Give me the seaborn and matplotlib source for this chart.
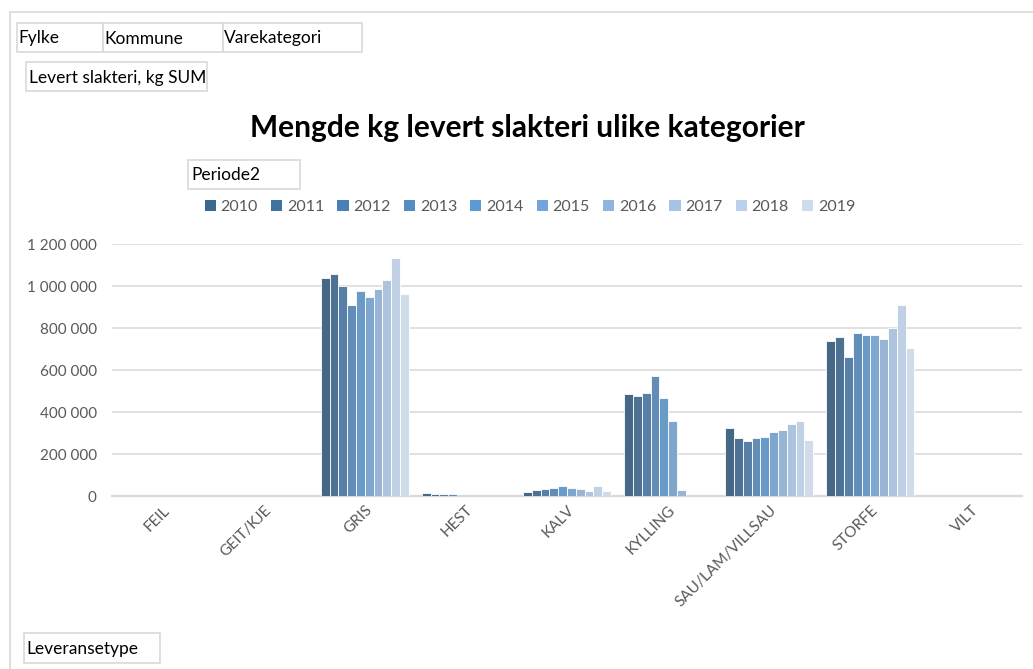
import numpy as np
import pandas as pd
import matplotlib
matplotlib.use("Agg")
import matplotlib.pyplot as plt
from matplotlib.patches import Rectangle
from matplotlib.lines import Line2D
import seaborn as sns

# Delivered slaughter weight (kg) per product category and year
categories = ["FEIL", "GEIT/KJE", "GRIS", "HEST", "KALV", "KYLLING",
              "SAU/LAM/VILLSAU", "STORFE", "VILT"]
years = ["2010", "2011", "2012", "2013", "2014", "2015", "2016", "2017", "2018", "2019"]

gris = [1037000, 1057000, 1002000, 908000, 978000, 948000, 986000, 1027000, 1132000, 962000]
hest = [12000, 11000, 11000, 11000]                       # 2010-2013
kalv = [17500, 28600, 31700, 36500, 46000, 38100, 31700, 22200, 47600, 23800]
kylling = [484000, 475000, 489000, 573000, 465000, 356000, 28600]   # 2010-2016
sau = [322000, 275000, 262000, 275000, 280000, 303000, 313000, 343000, 357000, 267000]
storfe = [738000, 756000, 660000, 776000, 767000, 765000, 746000, 801000, 909000, 703000]

series = {"GRIS": gris, "HEST": hest, "KALV": kalv, "KYLLING": kylling,
          "SAU/LAM/VILLSAU": sau, "STORFE": storfe}

yticks = [0, 200000, 400000, 600000, 800000, 1000000, 1200000]
ytick_labels = ["0", "200 000", "400 000", "600 000", "800 000", "1 000 000", "1 200 000"]

palette = ["#3b6791", "#41739f", "#4a80b5", "#538dc4", "#5b9bd5",
           "#72a6da", "#8eb4e0", "#a6c2e5", "#bbd0eb", "#cddbef"]

rows = []
for cat, vals in series.items():
    for yr, v in zip(years, vals):
        rows.append({"Varekategori": cat, "Periode2": yr, "kg": v})
df = pd.DataFrame(rows)

sns.set_theme(style="white")
plt.rcParams["font.family"] = ["Lato", "DejaVu Sans"]

W, H = 1033, 669
fig = plt.figure(figsize=(W / 100, H / 100), dpi=100)


def fx(px):
    return px / W


def fy(py):
    return 1 - py / H


ax = fig.add_axes([fx(112), fy(496), fx(1022) - fx(112), fy(244) - fy(496)])

sns.barplot(data=df, x="Varekategori", y="kg", hue="Periode2",
            order=categories, hue_order=years, palette=palette,
            width=0.87, edgecolor="white", linewidth=0.6,
            errorbar=None, ax=ax, legend=False, zorder=3)

grey_text = "#595959"
grid_col = "#d9d9d9"

ax.set_ylim(0, 1200000)
ax.set_xlim(-0.5, len(categories) - 0.5)
ax.set_yticks(yticks)
ax.set_yticklabels(ytick_labels, color=grey_text, fontsize=11)
ax.yaxis.grid(True, color=grid_col, linewidth=1.1, zorder=0)
ax.set_axisbelow(True)
ax.set_xlabel("")
ax.set_ylabel("")
for side in ["top", "right", "left"]:
    ax.spines[side].set_visible(False)
ax.spines["bottom"].set_color(grid_col)
ax.spines["bottom"].set_linewidth(1.6)
ax.tick_params(axis="y", length=0, pad=11)
ax.tick_params(axis="x", length=0, pad=5)
ax.set_xticks(range(len(categories)))
ax.set_xticklabels(categories, rotation=45, ha="right", rotation_mode="anchor",
                   color=grey_text, fontsize=11)

# Title
fig.text(fx(527), fy(128), "Mengde kg levert slakteri ulike kategorier",
         ha="center", va="center", fontsize=21.5, fontweight="bold", color="black")

# Legend
handles = [Rectangle((0, 0), 1, 1, facecolor=c, edgecolor="none") for c in palette]
fig.legend(handles, years, loc="center", bbox_to_anchor=(fx(530), fy(207)),
           ncol=10, frameon=False, handlelength=0.7, handleheight=0.7,
           handletextpad=0.3, columnspacing=0.82, fontsize=11.5,
           labelcolor=grey_text)

# Outer chart border
fig.add_artist(Line2D([fx(10), fx(10)], [fy(12), 0], color=grid_col, linewidth=1.2))
fig.add_artist(Line2D([fx(10), 1], [fy(12), fy(12)], color=grid_col, linewidth=1.2))


def field_button(x0, y0, x1, y1, label, pad=3):
    fig.add_artist(Rectangle((fx(x0), fy(y1)), fx(x1) - fx(x0), fy(y0) - fy(y1),
                             transform=fig.transFigure, facecolor="white",
                             edgecolor=grid_col, linewidth=1.2))
    fig.text(fx(x0 + pad), fy((y0 + y1) / 2 + 1), label, ha="left", va="center",
             fontsize=12.5, color="black")


field_button(17, 23, 103, 52, "Fylke", pad=1)
field_button(103, 23, 223, 52, "Kommune", pad=1)
field_button(223, 23, 362, 52, "Varekategori", pad=1)
field_button(26, 62, 207, 91, "Levert slakteri, kg SUM", pad=3)
field_button(188, 160, 300, 189, "Periode2", pad=3)
field_button(24, 633, 160, 663, "Leveransetype", pad=2)

fig.savefig("out.png", dpi=100)
